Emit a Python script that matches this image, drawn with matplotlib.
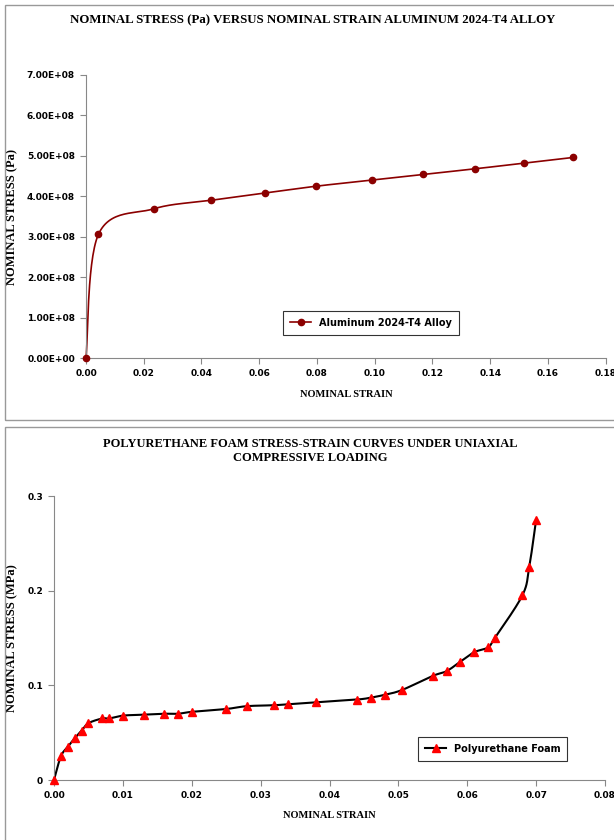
import matplotlib
matplotlib.use('Agg')
import matplotlib.pyplot as plt
import numpy as np
from matplotlib.patches import Rectangle
from matplotlib.ticker import FuncFormatter

# aluminum 2024-T4 data
al_strain = [0.0, 0.0043, 0.0234, 0.0432, 0.0620, 0.0798, 0.0990, 0.1168, 0.1349, 0.1518, 0.1688]
al_stress = [0.0, 3.06e8, 3.69e8, 3.90e8, 4.08e8, 4.25e8, 4.40e8, 4.54e8, 4.68e8, 4.82e8, 4.96e8]

# polyurethane foam data (MPa)
pu_strain = [0.0, 0.001, 0.002, 0.003, 0.004, 0.005, 0.007, 0.008, 0.010, 0.013, 0.016,
             0.018, 0.020, 0.025, 0.028, 0.032, 0.034, 0.038, 0.044, 0.046, 0.048, 0.0505,
             0.055, 0.057, 0.059, 0.061, 0.063, 0.064, 0.068, 0.069, 0.070]
pu_stress = [0.0, 0.025, 0.035, 0.044, 0.052, 0.060, 0.065, 0.065, 0.068, 0.069, 0.070,
             0.070, 0.072, 0.075, 0.078, 0.079, 0.080, 0.082, 0.085, 0.087, 0.090, 0.095,
             0.110, 0.115, 0.125, 0.135, 0.140, 0.150, 0.195, 0.225, 0.275]

serif = 'Liberation Serif'
sans = 'DejaVu Sans'


def smooth(x, y, xlim, ylim, n=30):
    # excel-like smoothed line: catmull-rom in axes-fraction space
    px = (np.asarray(x) - xlim[0]) / (xlim[1] - xlim[0])
    py = (np.asarray(y) - ylim[0]) / (ylim[1] - ylim[0])
    pts = np.column_stack([px, py])
    out = [pts[0]]
    for i in range(len(pts) - 1):
        p0 = pts[i - 1] if i > 0 else pts[i]
        p1, p2 = pts[i], pts[i + 1]
        p3 = pts[i + 2] if i + 2 < len(pts) else pts[i + 1]
        c1 = p1 + (p2 - p0) / 6
        c2 = p2 - (p3 - p1) / 6
        t = np.linspace(0, 1, n)[1:, None]
        seg = ((1 - t) ** 3) * p1 + 3 * ((1 - t) ** 2) * t * c1 + 3 * (1 - t) * t ** 2 * c2 + t ** 3 * p2
        out.extend(seg)
    out = np.array(out)
    return (out[:, 0] * (xlim[1] - xlim[0]) + xlim[0],
            out[:, 1] * (ylim[1] - ylim[0]) + ylim[0])


def style_axes(ax):
    for s in ['top', 'right']:
        ax.spines[s].set_visible(False)
    for s in ['left', 'bottom']:
        ax.spines[s].set_color('#888888')
        ax.spines[s].set_linewidth(0.8)
    ax.tick_params(direction='out', length=4, width=0.8, color='#888888', labelsize=6.5, pad=4)
    for lab in ax.get_xticklabels() + ax.get_yticklabels():
        lab.set_fontweight('bold')
        lab.set_family(sans)


fig = plt.figure(figsize=(6.14, 8.4), dpi=100)

# panel borders
fig.patches.append(Rectangle((5 / 614, 1 - 420 / 840), 1.0, 415 / 840, transform=fig.transFigure,
                             fill=False, edgecolor='#999999', linewidth=1.0))
fig.patches.append(Rectangle((5 / 614, -0.01), 1.0, 1 - 427 / 840 + 0.01, transform=fig.transFigure,
                             fill=False, edgecolor='#999999', linewidth=1.0))

# ===== top: aluminum =====
ax1 = fig.add_axes([86 / 614, 1 - 358.3 / 840, (605.7 - 86) / 614, (358.3 - 74.8) / 840])
xl1, yl1 = (0, 0.18), (0, 7e8)
sx, sy = smooth(al_strain, al_stress, xl1, yl1)
ax1.plot(sx, sy, color='#8B0000', linewidth=1.2, clip_on=False)
ax1.plot(al_strain, al_stress, 'o', color='#8B0000', markersize=4.5, clip_on=False, zorder=5)
ax1.plot([], [], 'o-', color='#8B0000', linewidth=1.2, markersize=4.5, label='Aluminum 2024-T4 Alloy')
ax1.set_xlim(*xl1)
ax1.set_ylim(*yl1)
ax1.set_xticks(np.arange(0, 0.181, 0.02))
ax1.set_yticks(np.arange(0, 7.01e8, 1e8))
ax1.xaxis.set_major_formatter(FuncFormatter(lambda v, p: f'{v:.2f}'))
ax1.yaxis.set_major_formatter(FuncFormatter(lambda v, p: f'{v / 1e8:.2f}E+08' if v > 0 else '0.00E+00'))
style_axes(ax1)
ax1.set_xlabel('NOMINAL STRAIN', family=serif, fontweight='bold', fontsize=7.5, labelpad=8)
ax1.set_ylabel('NOMINAL STRESS (Pa)', family=serif, fontweight='bold', fontsize=9)
ax1.yaxis.set_label_coords((18 - 86) / 519.7, 0.5)
leg1 = ax1.legend(loc='upper left', bbox_to_anchor=((283 - 86) / 519.7, (358.3 - 311) / 283.5),
                  frameon=True, fancybox=False, edgecolor='black',
                  prop={'family': sans, 'weight': 'bold', 'size': 7}, handlelength=2.2,
                  borderpad=0.7, borderaxespad=0)
leg1.get_frame().set_linewidth(0.8)
fig.text(313 / 614, 1 - 20 / 840, 'NOMINAL STRESS (Pa) VERSUS NOMINAL STRAIN ALUMINUM 2024-T4 ALLOY',
         ha='center', va='center', family=serif, fontweight='bold', fontsize=9.3)

# ===== bottom: polyurethane foam =====
ax2 = fig.add_axes([54 / 614, 1 - 780 / 840, (605 - 54) / 614, (780 - 496) / 840])
xl2, yl2 = (0, 0.08), (0, 0.3)
sx, sy = smooth(pu_strain, pu_stress, xl2, yl2)
ax2.plot(sx, sy, color='black', linewidth=1.5, clip_on=False)
ax2.plot(pu_strain, pu_stress, '^', color='red', markersize=6, clip_on=False, zorder=5)
ax2.plot([], [], '^-', color='black', markerfacecolor='red', markeredgecolor='red', linewidth=1.5,
         markersize=6, label='Polyurethane Foam')
ax2.set_xlim(*xl2)
ax2.set_ylim(*yl2)
ax2.set_xticks(np.arange(0, 0.081, 0.01))
ax2.set_yticks([0, 0.1, 0.2, 0.3])
ax2.xaxis.set_major_formatter(FuncFormatter(lambda v, p: f'{v:.2f}'))
ax2.yaxis.set_major_formatter(FuncFormatter(lambda v, p: '0' if v == 0 else f'{v:.1f}'))
style_axes(ax2)
ax2.set_xlabel('NOMINAL STRAIN', family=serif, fontweight='bold', fontsize=7.5, labelpad=8)
ax2.set_ylabel('NOMINAL STRESS (MPa)', family=serif, fontweight='bold', fontsize=9)
ax2.yaxis.set_label_coords((18 - 54) / 551, 0.5)
leg2 = ax2.legend(loc='upper left', bbox_to_anchor=((418 - 54) / 551, (780 - 737) / 284),
                  frameon=True, fancybox=False, edgecolor='black',
                  prop={'family': sans, 'weight': 'bold', 'size': 7}, handlelength=2.2,
                  borderpad=0.7, borderaxespad=0)
leg2.get_frame().set_linewidth(0.8)
fig.text(310 / 614, 1 - 451 / 840, 'POLYURETHANE FOAM STRESS-STRAIN CURVES UNDER UNIAXIAL\nCOMPRESSIVE LOADING',
         ha='center', va='center', family=serif, fontweight='bold', fontsize=9, linespacing=1.3)

plt.savefig('out.png', dpi=100)
plt.close()
